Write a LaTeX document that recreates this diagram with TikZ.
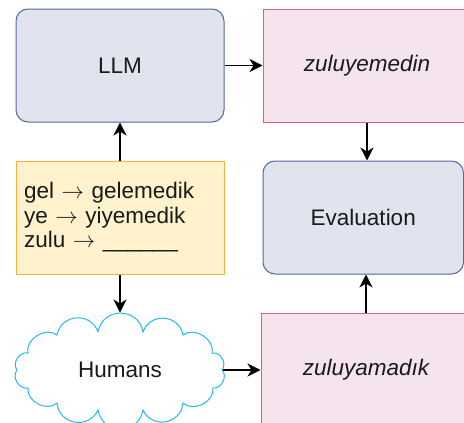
\RequirePackage{fix-cm}
\documentclass[tikz,border=0pt]{standalone}
\usepackage{fontspec}
\setmainfont{Liberation Sans}
\usetikzlibrary{arrows.meta}
\definecolor{bluefill}{HTML}{E1E4EE}
\definecolor{blueline}{HTML}{56689C}
\definecolor{pinkfill}{HTML}{F5E3EE}
\definecolor{pinkline}{HTML}{C8629C}
\definecolor{yelfill}{HTML}{FFF2CC}
\definecolor{yelline}{HTML}{FBB13C}
\definecolor{cloudline}{HTML}{29B6EE}
\definecolor{txt}{HTML}{1A1A1A}
\tikzset{
  base/.style={minimum width=208pt, minimum height=113pt, inner sep=8pt,
    line width=1pt, text=txt, font=\fontsize{22.5}{24.5}\selectfont},
  roundbox/.style={base, rectangle, rounded corners=12pt, draw=blueline, fill=bluefill},
  pinkbox/.style={base, rectangle, draw=pinkline, fill=pinkfill, font=\fontsize{22.5}{24.5}\selectfont\itshape},
  promptbox/.style={base, rectangle, draw=yelline, fill=yelfill, align=left, text width=192pt},
  conn/.style={line width=1.2pt, draw=black, -{Stealth[length=13pt, width=13pt, inset=4pt]}},
  bump/.style 2 args={bend left=#1, looseness=#2},
}
\begin{document}
\begin{tikzpicture}[x=1pt, y=-1pt]
\useasboundingbox (0,0) rectangle (464,423);
\clip (0,0) rectangle (464,423);
\node[roundbox] (llm) at (120,65.5) {LLM};
\node[pinkbox] (yemedin) at (367,65.5) {zuluyemedin};
\node[promptbox] (prompt) at (120,217.5) {gel $\rightarrow$ gelemedik\\ye $\rightarrow$ yiyemedik\\zulu $\rightarrow$ \_\_\_\_\_\_};
\node[roundbox, minimum width=200.5pt] (eval) at (363.25,217.5) {Evaluation};
\node[pinkbox, minimum width=210pt] (yamadik) at (366,369.5) {zuluyamadık};
% cloud
\node[base, minimum width=204pt, minimum height=114pt] (humans) at (120,370) {Humans};
\draw[cloudline, line width=1pt]
  (98,332) to[bump={80}{1.46}] (143,332)
  to[bump={75}{1.35}] (183,335)
  to[bump={70}{1.07}] (212,353)
  to[bump={70}{1.1}] (222,370)
  to[bump={70}{1.1}] (213,388)
  to[bump={70}{1.07}] (183,403)
  to[bump={75}{1.35}] (143,410)
  to[bump={80}{1.46}] (98,410)
  to[bump={75}{1.35}] (57,403)
  to[bump={70}{1.07}] (28,388)
  to[bump={70}{1.1}] (17,370)
  to[bump={70}{1.1}] (28,353)
  to[bump={70}{1.07}] (57,335)
  to[bump={75}{1.35}] (98,332);
% connectors
\draw[conn] (llm.east) -- (yemedin.west |- llm.east);
\draw[conn] (prompt.north) -- (llm.south);
\draw[conn] (yemedin.south) -- (yemedin.south |- eval.north);
\draw[conn] (prompt.south) -- (humans.north);
\draw[conn] (humans.east) -- (yamadik.west |- humans.east);
\draw[conn] (yamadik.north) -- (yamadik.north |- eval.south);
\end{tikzpicture}
\end{document}
